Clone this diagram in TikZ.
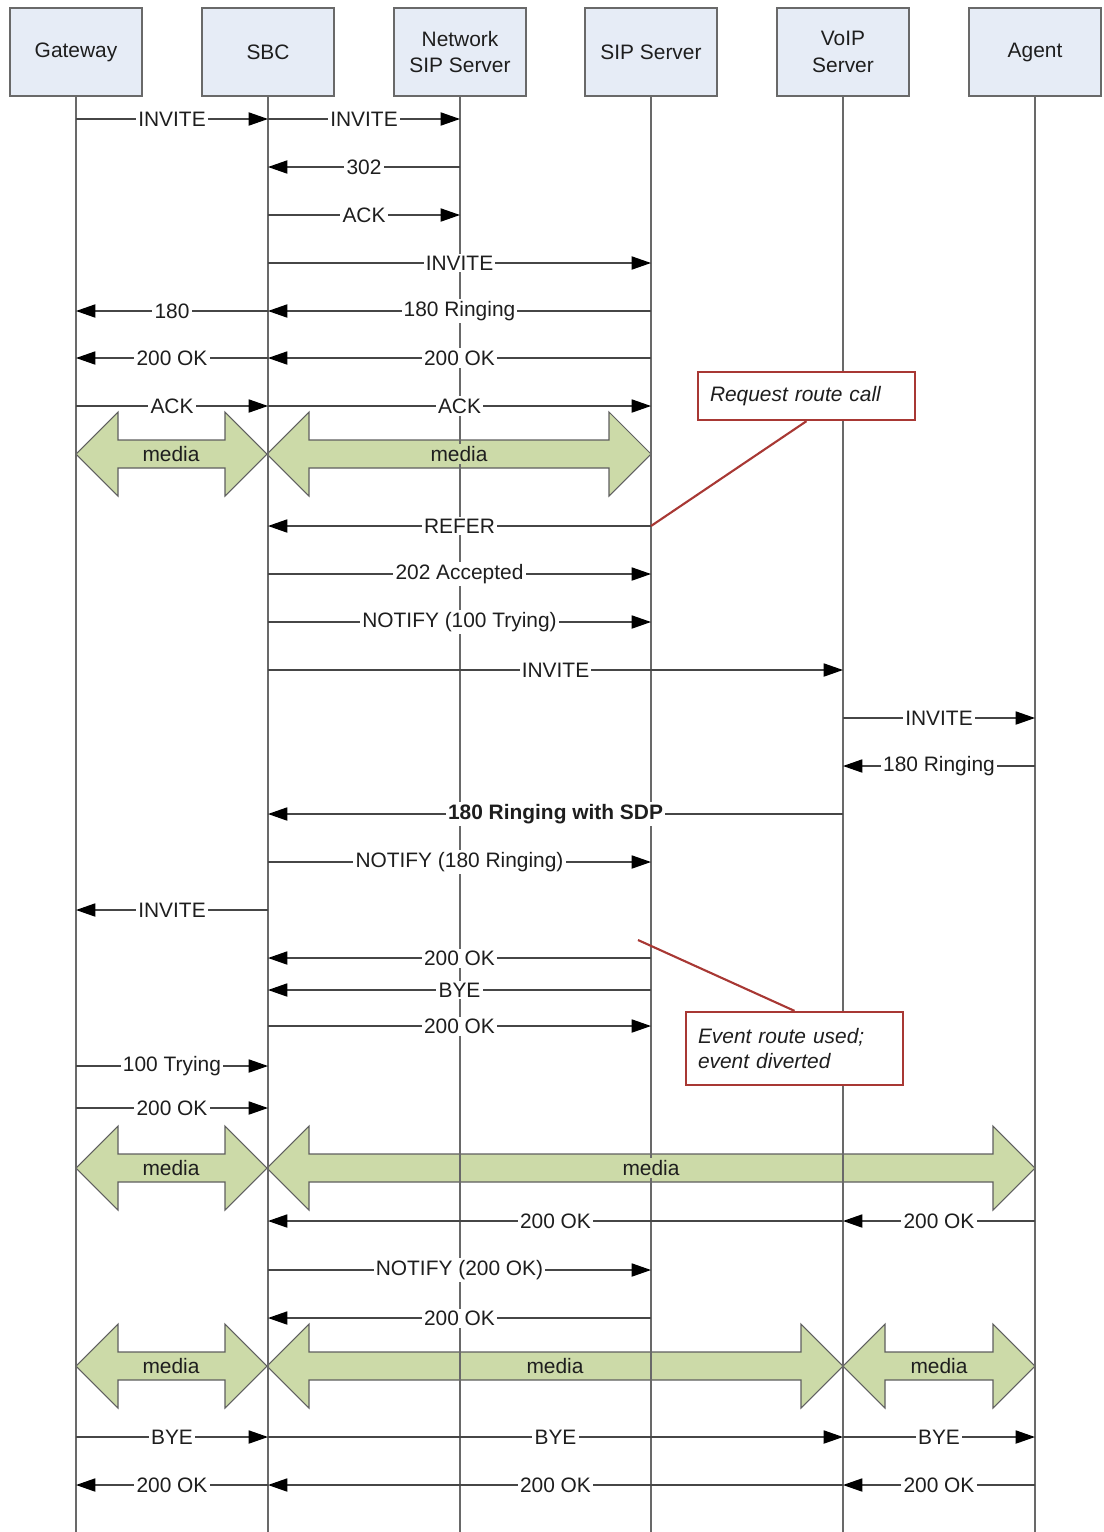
\documentclass[tikz,border=0pt]{standalone}
\usepackage{fontspec}
\setmainfont{Liberation Sans}
\usetikzlibrary{arrows.meta}
\definecolor{hdrfill}{RGB}{230,236,246}
\definecolor{hdrdraw}{RGB}{105,105,105}
\definecolor{medfill}{RGB}{204,218,168}
\definecolor{meddraw}{RGB}{95,95,95}
\definecolor{notered}{RGB}{168,56,52}
\definecolor{lnclr}{RGB}{70,70,70}
\definecolor{txtclr}{RGB}{30,30,30}
\tikzset{
  hdr/.style={draw=hdrdraw, fill=hdrfill, line width=0.7pt, minimum width=2.64cm, minimum height=1.76cm,
    align=center, text=txtclr, font=\fontsize{11.9}{15.3}\selectfont, inner sep=0pt},
  life/.style={draw=hdrdraw, line width=0.75pt},
  msg/.style={draw=lnclr, line width=0.7pt, -{Triangle[length=11pt,width=7.5pt,color=black]}},
  lbl/.style={fill=white, inner sep=1.2pt, text=txtclr, font=\fontsize{11.9}{14}\selectfont},
  media/.style={draw=meddraw, fill=medfill, line width=0.6pt, line join=miter},
  medlbl/.style={fill=medfill, inner sep=1.2pt, text=txtclr, font=\fontsize{11.9}{14}\selectfont},
  note/.style={draw=notered, line width=1.3pt, fill=white, align=left, text=txtclr,
    font=\fontsize{11.9}{14.7}\selectfont\itshape, inner xsep=0pt, inner ysep=0pt,
    minimum width=4.34cm, text width=3.86cm},
  noteline/.style={draw=notered, line width=1.2pt},
}
\newcommand\Msg[4]{\draw[msg] (#2 |- 0,#1) -- node[lbl]{#4} (#3 |- 0,#1);}
\newcommand\MediaShape[3]{%
  \path[media] (#1,#3) -- ({#1+42},{#3-42}) -- ({#1+42},{#3-14}) -- ({#2-42},{#3-14})
    -- ({#2-42},{#3-42}) -- (#2,#3) -- ({#2-42},{#3+42}) -- ({#2-42},{#3+14})
    -- ({#1+42},{#3+14}) -- ({#1+42},{#3+42}) -- cycle;}
\begin{document}
\begin{tikzpicture}[x=0.02cm,y=-0.02cm]
\useasboundingbox (0,0) rectangle (1103,1532);
% headers
\node[hdr] (gw)    at (76,52)  {Gateway};
\node[hdr] (sbc)   at (268,52) {SBC};
\node[hdr] (nsip)  at (460,52) {Network\\SIP Server};
\node[hdr] (sip)   at (651,52) {SIP Server};
\node[hdr] (voip)  at (843,52) {VoIP\\Server};
\node[hdr] (agent) at (1035,52) {Agent};
% media shapes (behind lifelines)
\MediaShape{76}{267}{454}
\MediaShape{267}{651}{454}
\MediaShape{76}{267}{1168}
\MediaShape{267}{1035}{1168}
\MediaShape{76}{267}{1366}
\MediaShape{267}{843}{1366}
\MediaShape{843}{1035}{1366}
% lifelines
\foreach \n in {gw,sbc,nsip,sip,voip,agent}{
  \draw[life] (\n.south) -- (\n |- 0,1532);
}
% media labels
\node[medlbl] (m1) at (171,454) {media};
\node[medlbl] (m2) at (459,454) {media};
\node[medlbl] (m3) at (171,1168) {media};
\node[medlbl] (m4) at (651,1168) {media};
\node[medlbl] (m5) at (171,1366) {media};
\node[medlbl] (m6) at (555,1366) {media};
\node[medlbl] (m7) at (939,1366) {media};
% messages
\Msg{119}{gw}{sbc}{INVITE}
\Msg{119}{sbc}{nsip}{INVITE}
\Msg{167}{nsip}{sbc}{302}
\Msg{215}{sbc}{nsip}{ACK}
\Msg{263}{sbc}{sip}{INVITE}
\Msg{311}{sbc}{gw}{180}
\Msg{311}{sip}{sbc}{180 Ringing}
\Msg{358}{sbc}{gw}{200 OK}
\Msg{358}{sip}{sbc}{200 OK}
\Msg{406}{gw}{sbc}{ACK}
\Msg{406}{sbc}{sip}{ACK}
\Msg{526}{sip}{sbc}{REFER}
\Msg{574}{sbc}{sip}{202 Accepted}
\Msg{622}{sbc}{sip}{NOTIFY (100 Trying)}
\Msg{670}{sbc}{voip}{INVITE}
\Msg{718}{voip}{agent}{INVITE}
\Msg{766}{agent}{voip}{180 Ringing}
\Msg{814}{voip}{sbc}{\textbf{180 Ringing with SDP}}
\Msg{862}{sbc}{sip}{NOTIFY (180 Ringing)}
\Msg{910}{sbc}{gw}{INVITE}
\Msg{958}{sip}{sbc}{200 OK}
\Msg{990}{sip}{sbc}{BYE}
\Msg{1026}{sbc}{sip}{200 OK}
\Msg{1066}{gw}{sbc}{100 Trying}
\Msg{1108}{gw}{sbc}{200 OK}
\Msg{1221}{voip}{sbc}{200 OK}
\Msg{1221}{agent}{voip}{200 OK}
\Msg{1270}{sbc}{sip}{NOTIFY (200 OK)}
\Msg{1318}{sip}{sbc}{200 OK}
\Msg{1437}{gw}{sbc}{BYE}
\Msg{1437}{sbc}{voip}{BYE}
\Msg{1437}{voip}{agent}{BYE}
\Msg{1485}{sbc}{gw}{200 OK}
\Msg{1485}{voip}{sbc}{200 OK}
\Msg{1485}{agent}{voip}{200 OK}
% notes
\node[note, minimum height=0.96cm] (req) at (806.5,396) {Request route call};
\draw[noteline] (req.south) -- (sip |- 0,526);
\node[note, minimum height=1.46cm] (ev) at (794.5,1048.5) {Event route used;\\event diverted};
\coordinate (evend) at (638,940);
\draw[noteline] (ev.north) -- (evend);
\end{tikzpicture}
\end{document}
